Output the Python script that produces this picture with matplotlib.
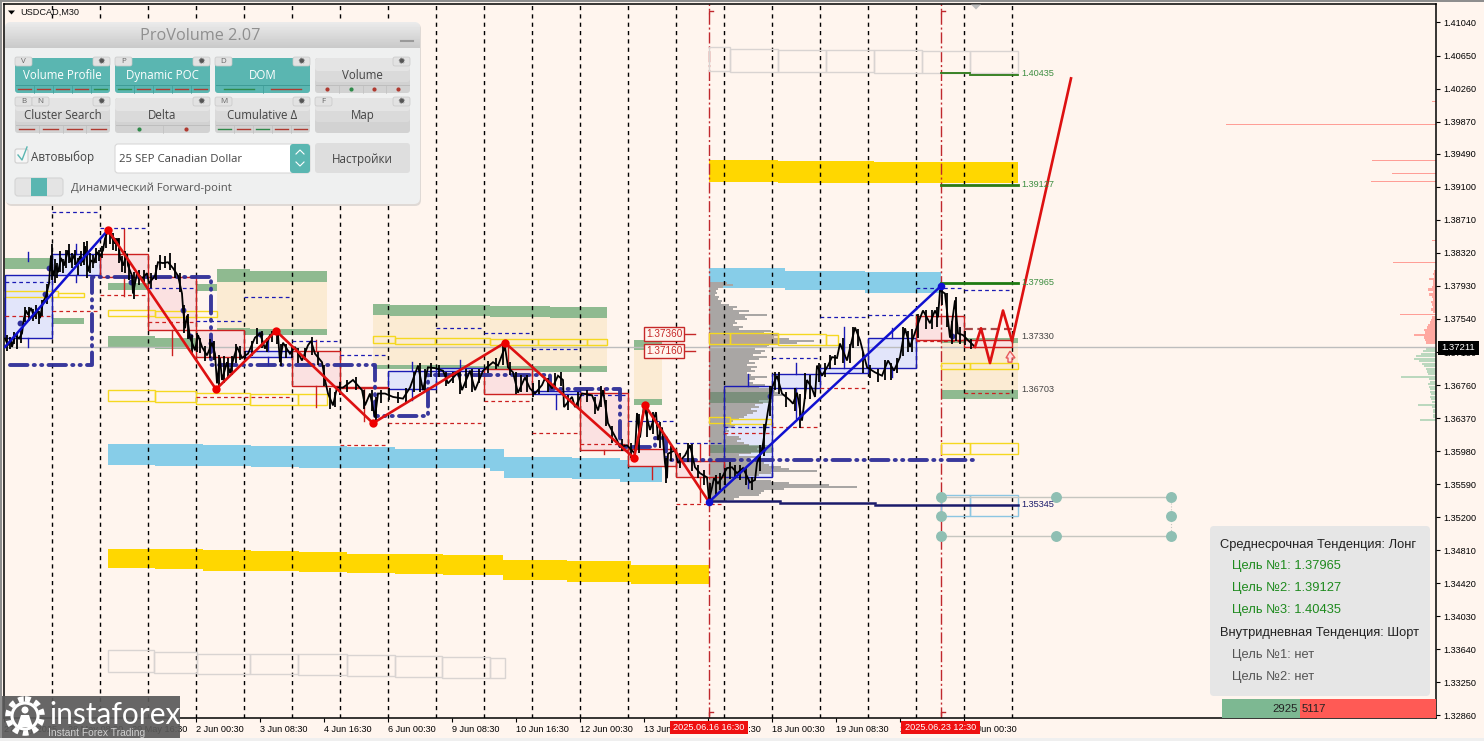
#!/usr/bin/env python3
"""USDCAD M30 chart with the ProVolume panel, drawn from values read off the screenshot."""

import matplotlib

matplotlib.use("Agg")
import matplotlib.pyplot as plt
import numpy as np
from matplotlib.patches import Circle, FancyBboxPatch, Polygon, Rectangle

BG = "#FFF5EE"
GREEN_ZONE = "#8FBA90"
BEIGE = "#FBEBD3"
SKY = "#87CDE8"
GOLD = "#FFD700"
YELLOW_EDGE = "#F5D820"
GRAY_EDGE = "#D9D4D2"
BOX_BLUE = "#1A1AB4"
BOX_BLUE_FILL = "#E2E5FA"
BOX_RED = "#CC1F1F"
BOX_RED_FILL = "#FBE1E1"
NAVY = "#2E2E98"
TEAL = "#5AB6B1"

X_LEFT, X_RIGHT = 4, 1436
Y_TOP, Y_BOTTOM = 1.41258, 1.32830

Y_TICKS = [1.41040, 1.40650, 1.40260, 1.39870, 1.39490, 1.39100, 1.38710, 1.38320, 1.37930, 1.37540, 1.37150,
           1.36760, 1.36370, 1.35980, 1.35590, 1.35200, 1.34810, 1.34420, 1.34030, 1.33640, 1.33250, 1.32860]
X_TICKS = [4, 68, 132, 196, 260, 324, 388, 452, 516, 580, 644, 708, 772, 836, 900, 964]
X_LABELS = ["27 May 2025", "28 May 08:30", "29 May 16:30", "2 Jun 00:30", "3 Jun 08:30", "4 Jun 16:30",
            "6 Jun 00:30", "9 Jun 08:30", "10 Jun 16:30", "12 Jun 00:30", "13 Jun 08:30", "16 Jun 16:30",
            "18 Jun 00:30", "19 Jun 08:30", "20 Jun 16:30", "24 Jun 00:30"]
GRID_BARS = [52, 100, 148, 196, 244, 292, 340, 388, 436, 484, 532, 580, 628, 676, 724, 772, 820, 868, 916, 964, 1012]
SESSION_BARS = [709, 941]
SESSION_TAGS = ["2025.06.16 16:30", "2025.06.23 12:30"]
LAST_PRICE = 1.37211

PRICE_PATH = [
    (5, 1.3731), (8, 1.3723), (11, 1.3729), (12, 1.3721), (15, 1.3735), (19, 1.3731), (22, 1.3737), (24, 1.3755),
    (26, 1.3764), (28, 1.3759), (31, 1.3767), (34, 1.3757), (37, 1.3765), (40, 1.3755), (43, 1.3774), (46, 1.3781),
    (49, 1.3796), (51, 1.3829), (53, 1.3805), (56, 1.3817), (58, 1.3809), (61, 1.3826), (64, 1.3817), (68, 1.3835),
    (71, 1.3821), (74, 1.3829), (77, 1.3816), (80, 1.3828), (83, 1.3821), (85, 1.3840), (88, 1.3810), (91, 1.3823),
    (94, 1.3821), (97, 1.3833), (100, 1.3828), (103, 1.3835), (105, 1.3849), (108, 1.3859),
    (112, 1.3850), (115, 1.3843), (118, 1.3849), (120, 1.3827), (123, 1.3817), (127, 1.3831), (128, 1.3817),
    (132, 1.3805), (133, 1.3784), (137, 1.3808), (142, 1.3802), (147, 1.3808), (149, 1.3796), (155, 1.3805),
    (158, 1.3821), (163, 1.3820), (168, 1.3821), (173, 1.3814), (178, 1.3805), (182, 1.3784), (183, 1.3767),
    (185, 1.3743), (187, 1.3758), (190, 1.3732), (195, 1.3717), (198, 1.3735), (202, 1.3721), (207, 1.3711),
    (212, 1.3726), (215, 1.3713), (217, 1.3678),
    (220, 1.3708), (222, 1.3682), (227, 1.3703), (230, 1.3690), (233, 1.3705), (237, 1.3721), (242, 1.3708),
    (248, 1.3713), (255, 1.3732), (260, 1.3737), (265, 1.3719), (270, 1.3735), (275, 1.3738),
    (278, 1.3735), (280, 1.3703), (283, 1.3726), (290, 1.3713), (295, 1.3721), (302, 1.3705), (308, 1.3723),
    (311, 1.3728), (315, 1.3713), (322, 1.3703), (325, 1.3682), (328, 1.3666), (333, 1.3652), (337, 1.3673),
    (343, 1.3673), (353, 1.3682), (362, 1.3670), (365, 1.3652), (370, 1.3666), (375, 1.3638), (378, 1.3666),
    (385, 1.3666), (393, 1.3662), (403, 1.3660), (410, 1.3673), (418, 1.3699), (423, 1.3670), (428, 1.3697),
    (435, 1.3696), (443, 1.3693), (448, 1.3678), (458, 1.3691), (462, 1.3670), (470, 1.3693), (475, 1.3670),
    (483, 1.3693), (493, 1.3703), (498, 1.3699), (505, 1.3721), (508, 1.3697), (513, 1.3691), (518, 1.3667),
    (525, 1.3685), (530, 1.3672), (535, 1.3666), (542, 1.3676), (545, 1.3684), (552, 1.3672), (558, 1.3687),
    (563, 1.3682), (564, 1.3650), (572, 1.3662), (575, 1.3650), (582, 1.3666), (592, 1.3664), (598, 1.3646),
    (603, 1.3670), (608, 1.3631), (617, 1.3611), (620, 1.3603), (627, 1.3605), (635, 1.3595), (637, 1.3643),
    (640, 1.3614), (644, 1.3652), (650, 1.3623), (656, 1.3644), (658, 1.3611), (662, 1.3626), (665, 1.3584),
    (667, 1.3566), (668, 1.3595), (675, 1.3599), (678, 1.3584), (685, 1.3593), (690, 1.3605), (695, 1.3579),
    (700, 1.3572), (707, 1.3567), (709, 1.3540),
    (712, 1.3555), (714, 1.3566), (718, 1.3560), (722, 1.3567), (727, 1.3578), (732, 1.3579), (737, 1.3572),
    (743, 1.3578), (750, 1.3561), (755, 1.3564), (757, 1.3584), (762, 1.3599), (765, 1.3623), (768, 1.3646),
    (772, 1.3673), (777, 1.3687), (782, 1.3666), (790, 1.3658), (793, 1.3654), (797, 1.3667), (802, 1.3634),
    (807, 1.3682), (812, 1.3672), (815, 1.3662), (817, 1.3699), (822, 1.3687), (828, 1.3699), (832, 1.3709),
    (837, 1.3708), (840, 1.3725), (847, 1.3705), (855, 1.3744), (860, 1.3729), (867, 1.3697), (875, 1.3691),
    (882, 1.3687), (888, 1.3705), (894, 1.3693), (900, 1.3709), (905, 1.3743), (910, 1.3721), (915, 1.3738),
    (920, 1.3755), (923, 1.3764), (930, 1.3749), (935, 1.3764), (938, 1.3756), (940, 1.3788), (945, 1.3784),
    (950, 1.3732), (955, 1.3776), (958, 1.3737), (963, 1.3735), (968, 1.3729), (975, 1.3721),
]

# high and low of single bars: (bar, high, low)
PRICE_RANGES = [
    (7, 1.3735, 1.3716), (10, 1.3733, 1.3718), (14, 1.3739, 1.3724), (17, 1.3737, 1.3718), (21, 1.3742, 1.3726),
    (25, 1.3768, 1.3750), (29, 1.3768, 1.3752), (33, 1.3766, 1.3752), (36, 1.3770, 1.3754), (39, 1.3764, 1.3748),
    (42, 1.3776, 1.3758), (47, 1.3795, 1.3772), (52, 1.3842, 1.3800), (55, 1.3825, 1.3796), (57, 1.3820, 1.3802),
    (60, 1.3834, 1.3810), (63, 1.3825, 1.3808), (66, 1.3836, 1.3814), (69, 1.3842, 1.3820), (72, 1.3832, 1.3814),
    (75, 1.3836, 1.3818), (78, 1.3826, 1.3806), (81, 1.3834, 1.3816), (84, 1.3845, 1.3818), (87, 1.3846, 1.3802),
    (90, 1.3832, 1.3808), (93, 1.3830, 1.3814), (96, 1.3838, 1.3820), (99, 1.3836, 1.3822), (102, 1.3840, 1.3826),
    (106, 1.3858, 1.3838), (110, 1.3858, 1.3842), (113, 1.3855, 1.3836), (116, 1.3850, 1.3834), (119, 1.3850, 1.3820),
    (122, 1.3828, 1.3810), (125, 1.3834, 1.3808), (129, 1.3822, 1.3800), (134, 1.3810, 1.3778), (139, 1.3812, 1.3794),
    (144, 1.3812, 1.3798), (151, 1.3808, 1.3790), (156, 1.3818, 1.3800), (160, 1.3830, 1.3812), (165, 1.3828, 1.3814),
    (170, 1.3832, 1.3812), (175, 1.3820, 1.3802), (180, 1.3808, 1.3786), (184, 1.3770, 1.3738), (188, 1.3760, 1.3730),
    (192, 1.3735, 1.3712), (197, 1.3738, 1.3715), (200, 1.3732, 1.3714), (205, 1.3722, 1.3704), (210, 1.3730, 1.3708),
    (214, 1.3728, 1.3705), (219, 1.3712, 1.3675), (224, 1.3710, 1.3678), (228, 1.3708, 1.3685), (232, 1.3710, 1.3688),
    (236, 1.3725, 1.3702), (240, 1.3722, 1.3705), (245, 1.3716, 1.3704), (252, 1.3728, 1.3710), (257, 1.3743, 1.3725),
    (262, 1.3740, 1.3720), (267, 1.3732, 1.3715), (272, 1.3740, 1.3727), (277, 1.3741, 1.3725), (281, 1.3725, 1.3698),
    (286, 1.3725, 1.3708), (292, 1.3722, 1.3708), (298, 1.3720, 1.3702), (305, 1.3720, 1.3706), (312, 1.3733, 1.3712),
    (318, 1.3715, 1.3700), (324, 1.3700, 1.3675), (330, 1.3672, 1.3648), (335, 1.3668, 1.3650), (340, 1.3680, 1.3664),
    (347, 1.3682, 1.3668), (356, 1.3685, 1.3670), (364, 1.3670, 1.3648), (372, 1.3670, 1.3645), (376, 1.3662, 1.3634),
    (381, 1.3670, 1.3655), (389, 1.3672, 1.3658), (398, 1.3668, 1.3655), (406, 1.3672, 1.3656), (414, 1.3692, 1.3668),
    (420, 1.3702, 1.3668), (425, 1.3695, 1.3668), (431, 1.3702, 1.3685), (439, 1.3700, 1.3685), (446, 1.3692, 1.3675),
    (453, 1.3692, 1.3678), (460, 1.3692, 1.3666), (466, 1.3695, 1.3672), (472, 1.3695, 1.3668), (479, 1.3695, 1.3678),
    (488, 1.3704, 1.3690), (496, 1.3708, 1.3695), (503, 1.3724, 1.3700), (510, 1.3703, 1.3688), (516, 1.3692, 1.3665),
    (521, 1.3688, 1.3668), (527, 1.3688, 1.3668), (533, 1.3678, 1.3662), (539, 1.3682, 1.3665), (548, 1.3684, 1.3668),
    (555, 1.3690, 1.3672), (561, 1.3692, 1.3675), (568, 1.3664, 1.3646), (578, 1.3668, 1.3650), (587, 1.3670, 1.3656),
    (595, 1.3662, 1.3642), (601, 1.3675, 1.3650), (606, 1.3658, 1.3628), (612, 1.3628, 1.3608), (622, 1.3612, 1.3598),
    (631, 1.3608, 1.3590), (639, 1.3642, 1.3596), (647, 1.3650, 1.3615), (653, 1.3644, 1.3618), (660, 1.3632, 1.3602),
    (666, 1.3590, 1.3560), (671, 1.3604, 1.3586), (680, 1.3596, 1.3578), (688, 1.3608, 1.3585), (692, 1.3606, 1.3575),
    (698, 1.3582, 1.3566), (704, 1.3576, 1.3558), (710, 1.3560, 1.3538), (716, 1.3570, 1.3545), (720, 1.3572, 1.3552),
    (725, 1.3578, 1.3558), (730, 1.3585, 1.3565), (735, 1.3582, 1.3565), (740, 1.3582, 1.3564), (746, 1.3578, 1.3558),
    (752, 1.3568, 1.3552), (760, 1.3605, 1.3575), (764, 1.3630, 1.3592), (770, 1.3675, 1.3640), (775, 1.3692, 1.3670),
    (779, 1.3692, 1.3665), (786, 1.3668, 1.3650), (795, 1.3672, 1.3645), (800, 1.3665, 1.3625), (805, 1.3690, 1.3660),
    (810, 1.3688, 1.3660), (819, 1.3702, 1.3680), (825, 1.3702, 1.3685), (830, 1.3712, 1.3695), (835, 1.3712, 1.3700),
    (843, 1.3732, 1.3702), (850, 1.3725, 1.3702), (853, 1.3745, 1.3720), (858, 1.3742, 1.3722), (863, 1.3715, 1.3690),
    (870, 1.3700, 1.3684), (878, 1.3695, 1.3680), (885, 1.3705, 1.3682), (891, 1.3702, 1.3682), (897, 1.3708, 1.3690),
    (903, 1.3745, 1.3710), (908, 1.3740, 1.3715), (912, 1.3742, 1.3715), (918, 1.3760, 1.3732), (926, 1.3765, 1.3742),
    (932, 1.3765, 1.3742), (937, 1.3768, 1.3745), (942, 1.3795, 1.3770), (947, 1.3785, 1.3745), (952, 1.3752, 1.3725),
    (956, 1.3780, 1.3728), (960, 1.3745, 1.3725), (965, 1.3740, 1.3723), (971, 1.3730, 1.3718),
]
POC_NODE_BARS = [20, 45, 49, 131, 183, 190, 211, 260, 763, 770, 952]
POC_NODE_PRICES = [1.3749, 1.3783, 1.3814, 1.3798, 1.3765, 1.3734, 1.3726, 1.3736, 1.3601, 1.3663, 1.3734]

# (first bar, last bar, upper price, lower price)
GREEN_ZONES = [
    (5, 52, 1.3826, 1.3813), (52, 75, 1.3823, 1.3814), (20, 84, 1.3755, 1.3748),
    (108, 155, 1.3797, 1.3788), (155, 217, 1.3795, 1.3787), (108, 155, 1.3734, 1.3721), (155, 217, 1.3732, 1.3719),
    (217, 250, 1.3813, 1.3798), (250, 327, 1.3811, 1.3798), (217, 250, 1.3743, 1.3735), (250, 327, 1.3742, 1.3735),
    (373, 390, 1.3772, 1.3759), (390, 435, 1.3771, 1.3758), (435, 490, 1.3770, 1.3757), (490, 550, 1.3769, 1.3756),
    (550, 607, 1.3768, 1.3755), (373, 470, 1.3700, 1.3695), (470, 607, 1.3698, 1.3692),
    (634, 662, 1.3729, 1.3717), (634, 662, 1.3660, 1.3653), (941, 1018, 1.3732, 1.3726), (941, 1018, 1.3670, 1.3659),
]
BEIGE_ZONES = [(217, 327, 1.3798, 1.3742), (373, 607, 1.3759, 1.3698), (634, 662, 1.3717, 1.3660),
               (941, 1018, 1.3726, 1.3670)]
SKY_BANDS = [
    (108, 155, 1.3607, 1.3582), (155, 203, 1.3606, 1.3581), (203, 251, 1.3605, 1.3580), (251, 299, 1.3604, 1.3579),
    (299, 347, 1.3604, 1.3578), (347, 395, 1.3603, 1.3578), (395, 490, 1.3601, 1.3578), (490, 504, 1.3600, 1.3575),
    (504, 572, 1.3591, 1.3566), (572, 620, 1.3590, 1.3565), (620, 662, 1.3587, 1.3562),
    (709, 785, 1.3814, 1.3790), (785, 865, 1.3811, 1.3788), (865, 941, 1.3809, 1.3785),
]
GOLD_BANDS = [
    (108, 155, 1.3483, 1.3460), (155, 203, 1.3482, 1.3459), (203, 251, 1.3481, 1.3457), (251, 299, 1.3480, 1.3456),
    (299, 347, 1.3479, 1.3455), (347, 395, 1.3477, 1.3454), (395, 443, 1.3476, 1.3453), (443, 503, 1.3475, 1.3452),
    (503, 567, 1.3469, 1.3446), (567, 631, 1.3468, 1.3444), (631, 709, 1.3464, 1.3441),
    (709, 778, 1.3942, 1.3916), (778, 826, 1.3941, 1.3915), (826, 874, 1.3940, 1.3914), (874, 1018, 1.3939, 1.3914),
]
YELLOW_BOXES = [
    (5, 58, 1.3787, 1.3780), (58, 84, 1.3785, 1.3780), (108, 155, 1.3765, 1.3758), (155, 217, 1.3764, 1.3756),
    (108, 155, 1.3670, 1.3657), (155, 196, 1.3669, 1.3656), (196, 250, 1.3667, 1.3654), (250, 298, 1.3666, 1.3653),
    (298, 327, 1.3665, 1.3653), (373, 395, 1.3734, 1.3726), (395, 435, 1.3732, 1.3725), (435, 490, 1.3731, 1.3724),
    (490, 538, 1.3730, 1.3723), (538, 587, 1.3730, 1.3723), (587, 607, 1.3730, 1.3723),
    (709, 730, 1.3737, 1.3725), (730, 778, 1.3737, 1.3724), (778, 826, 1.3736, 1.3723), (826, 838, 1.3735, 1.3723),
    (709, 730, 1.3638, 1.3631), (730, 771, 1.3636, 1.3630), (941, 970, 1.3702, 1.3695), (970, 1018, 1.3702, 1.3695),
    (941, 970, 1.3608, 1.3595), (970, 1018, 1.3608, 1.3595),
]
SKY_BOXES = [(941, 970, 1.3546, 1.3522), (970, 1018, 1.3546, 1.3522)]
GRAY_BOXES = [
    (108, 154, 1.3363, 1.3337), (154, 197, 1.3361, 1.3336), (197, 250, 1.3359, 1.3335), (250, 298, 1.3359, 1.3335),
    (298, 347, 1.3358, 1.3334), (347, 395, 1.3357, 1.3332), (395, 442, 1.3356, 1.3331), (442, 490, 1.3355, 1.3330),
    (490, 505, 1.3354, 1.3330),
    (709, 730, 1.4075, 1.4047), (730, 778, 1.4073, 1.4046), (778, 826, 1.4072, 1.4046), (826, 874, 1.4071, 1.4045),
    (874, 922, 1.4071, 1.4044), (922, 970, 1.4070, 1.4044), (970, 1018, 1.4070, 1.4044),
]
BLUE_BOXES = [
    (5, 52, 1.3806, 1.3732), (52, 100, 1.3831, 1.3806), (244, 292, 1.3716, 1.3709), (388, 436, 1.3693, 1.3671),
    (436, 484, 1.3696, 1.3693), (533, 580, 1.3669, 1.3666), (724, 772, 1.3675, 1.3567), (772, 820, 1.3689, 1.3673),
    (820, 868, 1.3696, 1.3690), (868, 916, 1.3732, 1.3696),
]
RED_BOXES = [
    (100, 148, 1.3831, 1.3804), (148, 196, 1.3804, 1.3741), (196, 244, 1.3741, 1.3709), (292, 340, 1.3716, 1.3675),
    (340, 388, 1.3674, 1.3672), (484, 532, 1.3695, 1.3666), (580, 628, 1.3667, 1.3599), (628, 676, 1.3600, 1.3581),
    (676, 724, 1.3586, 1.3567), (916, 964, 1.3757, 1.3729), (964, 1012, 1.3729, 1.3721),
]
# (bar, upper price, lower price)
BLUE_WICKS = [
    (28, 1.3833, 1.3823), (28, 1.3732, 1.3721), (76, 1.3843, 1.3831), (76, 1.3806, 1.3798), (268, 1.3731, 1.3716),
    (268, 1.3709, 1.3700), (412, 1.3703, 1.3693), (412, 1.3671, 1.3658), (460, 1.3706, 1.3696), (556, 1.3666, 1.3648),
    (748, 1.3689, 1.3675), (748, 1.3567, 1.3555), (796, 1.3702, 1.3689), (796, 1.3673, 1.3637), (844, 1.3745, 1.3696),
    (892, 1.3743, 1.3732), (892, 1.3696, 1.3686),
]
RED_WICKS = [
    (124, 1.3860, 1.3831), (124, 1.3804, 1.3781), (172, 1.3741, 1.3711), (316, 1.3729, 1.3716), (316, 1.3675, 1.3650),
    (364, 1.3672, 1.3633), (508, 1.3721, 1.3695), (604, 1.3673, 1.3667), (604, 1.3599, 1.3595), (652, 1.3579, 1.3565),
    (700, 1.3607, 1.3586), (700, 1.3567, 1.3538),
]
# (first bar, last bar, price)
BLUE_DASHES = [
    (52, 100, 1.3880), (100, 148, 1.3861), (5, 52, 1.3798), (148, 196, 1.3790), (196, 244, 1.3752), (244, 292, 1.3780),
    (292, 340, 1.3728), (340, 388, 1.3711), (436, 484, 1.3743), (484, 532, 1.3737), (532, 580, 1.3718),
    (580, 628, 1.3664), (628, 676, 1.3633), (676, 724, 1.3608), (724, 772, 1.3626), (772, 820, 1.3708),
    (820, 868, 1.3756), (868, 916, 1.3759), (916, 964, 1.3791), (964, 1012, 1.3788),
]
RED_DASHES = [
    (52, 100, 1.3763), (5, 52, 1.3757), (100, 148, 1.3782), (148, 196, 1.3750), (196, 292, 1.3662), (340, 388, 1.3605),
    (388, 436, 1.3631), (436, 484, 1.3631), (484, 532, 1.3657), (532, 580, 1.3619), (580, 628, 1.3607),
    (676, 724, 1.3536), (772, 820, 1.3627), (724, 772, 1.3619), (820, 868, 1.3672), (916, 964, 1.3728),
    (964, 1012, 1.3667),
]

POC_BARS = [10, 92, 92, 211, 211, 375, 375, 428, 428, 550, 550, 620, 620, 655, 655, 666, 666, 975]
POC_PRICES = [1.3700, 1.3700, 1.3804, 1.3804, 1.3700, 1.3700, 1.3639, 1.3639, 1.3688, 1.3688, 1.3671, 1.3671,
              1.3603, 1.3603, 1.3614, 1.3614, 1.3588, 1.3588]

DOWN_WAVE_BARS = [108, 216, 276, 373, 505, 634, 645, 709]
DOWN_WAVE_PRICES = [1.3859, 1.3671, 1.3740, 1.3631, 1.3726, 1.3590, 1.3652, 1.3538]
UP_WAVE_BARS = [[5, 108], [709, 941]]
UP_WAVE_PRICES = [[1.3721, 1.3859], [1.3538, 1.3793]]
FORECAST_BARS = [975, 981, 990, 1003, 1012, 1071]
FORECAST_PRICES = [1.3721, 1.3743, 1.3702, 1.3764, 1.3728, 1.4038]

TARGET_LEVELS = [1.40435, 1.39127, 1.37965, 1.37330, 1.36703, 1.35345]
TARGET_TEXT = ["1.40435", "1.39127", "1.37965", "1.37330", "1.36703", "1.35345"]
TARGET_COLORS = ["#3E8E41", "#3E8E41", "#3E8E41", "#444444", "#444444", "#1B1B6B"]
NAVY_STEPS = [(709, 780, 1.3539), (780, 875, 1.3537), (875, 1018, 1.35345)]

MARKER_BARS = [941, 941, 941, 1056, 1056, 1171, 1171, 1171]
MARKER_PRICES = [1.3544, 1.3521, 1.3498, 1.3544, 1.3498, 1.3544, 1.3521, 1.3498]

PROFILE_TOP = 1.3796
PROFILE_STEP = 0.000236
PROFILE_WIDTHS = [18, 24, 14, 9, 7, 8, 6, 10, 9, 13, 12, 20, 28, 24, 40, 30, 58, 36, 38, 26, 28, 24, 34, 30, 62, 55,
                  70, 65, 80, 105, 88, 60, 58, 46, 56, 52, 44, 58, 50, 40, 46, 38, 48, 42, 46, 38, 42, 58, 46, 40,
                  44, 56, 50, 62, 66, 70, 78, 64, 60, 50, 54, 46, 50, 42, 48, 44, 38, 35, 30, 24, 22, 26, 25, 18,
                  20, 15, 18, 30, 32, 28, 35, 40, 52, 48, 50, 42, 30, 48, 40, 50, 55, 60, 72, 80, 108, 62, 50, 38,
                  46, 62, 80, 120, 148, 75, 55, 52, 50, 30, 25, 18]
PROFILE_DARK = [(709, 772, 1.3668, 1.3655), (709, 772, 1.3605, 1.3596)]
PROFILE_TAN = [(709, 778, 1.3737, 1.3725)]

# single levels far from the price, drawn as hairlines
DOM_SPIKE_PRICES = [1.4011, 1.3984, 1.3941, 1.3926, 1.3916, 1.3847, 1.3821, 1.3759]
DOM_SPIKE_SIZES = [4, 210, 64, 44, 65, 4, 43, 36]
DOM_RED_PRICES = [1.3810, 1.3807, 1.3804, 1.3801, 1.3798, 1.3795, 1.3792, 1.3789, 1.3786, 1.3783, 1.3780, 1.3777,
                  1.3774, 1.3771, 1.3768, 1.3765, 1.3762, 1.3756, 1.3753, 1.3750, 1.3747, 1.3744, 1.3741, 1.3738,
                  1.3735, 1.3732, 1.3729, 1.3726]
DOM_RED_SIZES = [2, 3, 2, 7, 3, 3, 4, 8, 3, 7, 4, 3, 5, 4, 3, 5, 3, 4, 5, 6, 8, 9, 12, 11, 22, 12, 11, 10]
DOM_GREEN_PRICES = [1.3719, 1.3716, 1.3713, 1.3710, 1.3707, 1.3704, 1.3701, 1.3698, 1.3695, 1.3692, 1.3689, 1.3686,
                    1.3683, 1.3680, 1.3677, 1.3674, 1.3671, 1.3668, 1.3665, 1.3662, 1.3659, 1.3656, 1.3653, 1.3650,
                    1.3647, 1.3644, 1.3641, 1.3638, 1.3635]
DOM_GREEN_SIZES = [10, 13, 15, 20, 22, 17, 14, 12, 10, 9, 8, 35, 7, 6, 8, 7, 6, 6, 5, 6, 5, 4, 18, 4, 3, 3, 3, 3, 16]

RED_TAGS = ["1.37360", "1.37160"]
RED_TAG_PRICES = [1.3736, 1.3716]

INFO_LINES = ["Среднесрочная Тенденция: Лонг", "Цель №1: 1.37965", "Цель №2: 1.39127", "Цель №3: 1.40435",
              "Внутридневная Тенденция: Шорт", "Цель №1: нет", "Цель №2: нет"]
INFO_COLORS = ["#222222", "#1E8A1E", "#1E8A1E", "#1E8A1E", "#222222", "#555555", "#555555"]
BUY_VOLUME, SELL_VOLUME = 2925, 5117

BUTTONS = [
    ("Volume Profile", 15, 58, True, ["V"], ["r", "r", "r", "r", "g"], "-"),
    ("Dynamic POC", 115, 58, True, ["P"], ["g", "r", "r", "r", "r"], "-"),
    ("DOM", 215, 58, True, ["D"], ["g", "r"], "-"),
    ("Volume", 315, 58, False, [], ["r", "g", "r", "r"], "."),
    ("Cluster Search", 15, 98, False, ["B", "N"], ["r", "r", "r", "r"], "-"),
    ("Delta", 115, 98, False, [], ["g", "r"], "."),
    ("Cumulative Δ", 215, 98, False, ["M"], ["g", "r", "g", "r", "r"], "-"),
    ("Map", 315, 98, False, ["F"], [], "-"),
]


def add_boxes(ax, boxes, face, edge, lw=1.0, zorder=1.0, alpha=1.0):
    for x0, x1, hi, lo in boxes:
        ax.add_patch(Rectangle((x0, lo), x1 - x0, hi - lo, facecolor=face, edgecolor=edge, linewidth=lw,
                               zorder=zorder, alpha=alpha))


def draw_chart(ax):
    ax.set_facecolor(BG)
    ax.set_xlim(X_LEFT, X_RIGHT)
    ax.set_ylim(Y_BOTTOM, Y_TOP)

    add_boxes(ax, BEIGE_ZONES, BEIGE, "none", 0, 1.0)
    add_boxes(ax, GREEN_ZONES, GREEN_ZONE, "none", 0, 1.1)
    add_boxes(ax, SKY_BANDS, SKY, "none", 0, 1.1)
    add_boxes(ax, GOLD_BANDS, GOLD, "none", 0, 1.1)
    add_boxes(ax, BLUE_BOXES, BOX_BLUE_FILL, "none", 0, 1.2)
    add_boxes(ax, RED_BOXES, BOX_RED_FILL, "none", 0, 1.2)

    # volume profile and depth of market
    widths = np.array(PROFILE_WIDTHS)
    levels = PROFILE_TOP - PROFILE_STEP * np.arange(len(widths))
    ax.barh(levels, widths, left=SESSION_BARS[0], height=PROFILE_STEP * 0.9, color="#A9A6A4", linewidth=0, zorder=1.3)
    add_boxes(ax, PROFILE_DARK, "#4F7A55", "none", 0, 1.35, alpha=0.5)
    add_boxes(ax, PROFILE_TAN, "#D8A880", "none", 0, 1.35, alpha=0.3)
    ax.barh(DOM_SPIKE_PRICES, DOM_SPIKE_SIZES, left=X_RIGHT - np.array(DOM_SPIKE_SIZES), height=0.00012,
            color="#FF9E96", linewidth=0, zorder=1.3)
    ax.barh(DOM_RED_PRICES, DOM_RED_SIZES, left=X_RIGHT - np.array(DOM_RED_SIZES), height=0.00030,
            color="#FFA8A0", linewidth=0, zorder=1.3)
    ax.barh(DOM_GREEN_PRICES, DOM_GREEN_SIZES, left=X_RIGHT - np.array(DOM_GREEN_SIZES), height=0.00024,
            color="#BBD8BE", linewidth=0, zorder=1.3)

    ax.axhline(LAST_PRICE, color="#BDBDBD", linewidth=1.0, zorder=1.5)
    ax.vlines(GRID_BARS, Y_BOTTOM, Y_TOP, colors="black", linewidth=1.0, linestyles=(0, (3, 3)), zorder=2)
    for bar in SESSION_BARS:
        ax.plot([bar, bar], [Y_BOTTOM, Y_TOP], color="#C0282D", linewidth=1.0, linestyle=(0, (8, 2, 1.5, 2)), zorder=2.1)
        ax.plot([bar, bar, bar + 4], [1.4115, 1.4118, 1.4118], color="#C0282D", linewidth=1.0, zorder=2.1)
        ax.plot([bar, bar, bar + 4], [1.3287, 1.3290, 1.3290], color="#C0282D", linewidth=1.0, zorder=2.1)

    add_boxes(ax, YELLOW_BOXES, "none", YELLOW_EDGE, 1.0, 3)
    add_boxes(ax, SKY_BOXES, "none", "#8CC6E2", 1.0, 3)
    add_boxes(ax, GRAY_BOXES, "none", GRAY_EDGE, 1.0, 3)
    add_boxes(ax, BLUE_BOXES, "none", BOX_BLUE, 1.0, 3)
    add_boxes(ax, RED_BOXES, "none", BOX_RED, 1.0, 3)
    for bar, hi, lo in BLUE_WICKS:
        ax.plot([bar, bar], [lo, hi], color=BOX_BLUE, linewidth=1.0, zorder=3)
    for bar, hi, lo in RED_WICKS:
        ax.plot([bar, bar], [lo, hi], color=BOX_RED, linewidth=1.0, zorder=3)
    for x0, x1, price in BLUE_DASHES:
        ax.plot([x0, x1], [price, price], color=BOX_BLUE, linewidth=0.9, linestyle=(0, (3, 2.5)), zorder=3)
    for x0, x1, price in RED_DASHES:
        ax.plot([x0, x1], [price, price], color=BOX_RED, linewidth=0.9, linestyle=(0, (3, 2.5)), zorder=3)
    ax.plot([964, 1012], [1.3742, 1.3742], color="#A64B4B", linewidth=1.6, linestyle=(0, (4, 2)), zorder=3)

    ax.plot(POC_BARS, POC_PRICES, color=NAVY, linewidth=2.8, linestyle=(0, (4.5, 1.6, 0.3, 1.6, 0.3, 1.6)),
            dash_capstyle="round", alpha=0.95, zorder=3.5)
    ax.scatter(POC_NODE_BARS, POC_NODE_PRICES, s=18, color=NAVY, linewidth=0, zorder=4.8)

    # marker grid below the last session
    ax.plot([941, 1171], [1.3544, 1.3544], color="#C6C6C0", linewidth=1.0, zorder=3)
    ax.plot([941, 1171], [1.3498, 1.3498], color="#C6C6C0", linewidth=1.0, zorder=3)
    ax.plot([1171, 1171], [1.3544, 1.3498], color="#C6C6C0", linewidth=0.8, linestyle=":", zorder=3)
    ax.scatter(MARKER_BARS, MARKER_PRICES, s=62, color="#8FBFB3", linewidth=0, zorder=3.6)

    xs, ys = zip(*PRICE_PATH)
    ax.plot(xs, ys, color="black", linewidth=1.3, solid_joinstyle="miter", zorder=5)
    bars, highs, lows = zip(*PRICE_RANGES)
    ax.vlines(bars, lows, highs, colors="black", linewidth=1.3, zorder=5)

    ax.plot(DOWN_WAVE_BARS, DOWN_WAVE_PRICES, color="#DD1111", linewidth=1.9, zorder=6)
    ax.scatter(DOWN_WAVE_BARS[:-1], DOWN_WAVE_PRICES[:-1], s=36, color="#EE0000", linewidth=0, zorder=6.5)
    for bars, prices in zip(UP_WAVE_BARS, UP_WAVE_PRICES):
        ax.plot(bars, prices, color="#1010D0", linewidth=1.8, zorder=6.2)
    ax.scatter([709, 941], [1.3538, 1.3793], s=30, color="#1010D0", linewidth=0, zorder=6.5)
    ax.plot(FORECAST_BARS, FORECAST_PRICES, color="#DD1111", linewidth=1.9, zorder=6)

    ax.plot([941, 970], [1.40445, 1.40445], color="#2B7A17", linewidth=1.3, zorder=4)
    ax.plot([970, 1018], [1.40425, 1.40425], color="#2B7A17", linewidth=1.3, zorder=4)
    ax.plot([941, 1018], [1.39127, 1.39127], color="#2B7A17", linewidth=2.0, zorder=4)
    ax.plot([941, 1018], [1.37965, 1.37965], color="#1E7A12", linewidth=2.0, zorder=4)
    for x0, x1, price in NAVY_STEPS:
        ax.plot([x0, x1], [price, price], color="#1B1B6B", linewidth=1.8, zorder=4)
    for price, text, color in zip(TARGET_LEVELS, TARGET_TEXT, TARGET_COLORS):
        ax.text(1021, price, text, color=color, fontsize=6.6, va="center", ha="left", family="Liberation Sans", zorder=7)

    ax.add_patch(Polygon([(1006, 1.3708), (1010, 1.3716), (1015, 1.3708), (1012, 1.3708), (1012, 1.3703),
                          (1008, 1.3703), (1008, 1.3708)], closed=True, facecolor="#FBE1E1", edgecolor="#E75B5B",
                         linewidth=1.0, zorder=6))

    for text, price in zip(RED_TAGS, RED_TAG_PRICES):
        ax.text(664, price, text, color="#C62828", fontsize=7.2, ha="center", va="center", family="Liberation Sans",
                zorder=7, bbox={"boxstyle": "square,pad=0.18", "facecolor": BG, "edgecolor": "#C62828", "linewidth": 1.0})
        ax.plot([685, 695], [price, price], color="#C62828", linewidth=1.0, zorder=7)

    ax.yaxis.tick_right()
    ax.set_yticks(Y_TICKS)
    ax.set_yticklabels([f"{v:.5f}" for v in Y_TICKS], family="Liberation Sans", fontsize=6.6)
    ax.set_xticks(X_TICKS)
    ax.set_xticklabels(X_LABELS, family="Liberation Sans", fontsize=6.6, ha="left")
    ax.tick_params(axis="both", length=3, width=0.8, pad=2, color="black")
    for spine in ax.spines.values():
        spine.set_linewidth(1.1)


def rounded(ui, x, y, w, h, face, edge="none", r=3, lw=0.8, zorder=20, alpha=1.0):
    ui.add_patch(FancyBboxPatch((x + r, y + r), w - 2 * r, h - 2 * r, boxstyle=f"round,pad={r}", facecolor=face,
                                edgecolor=edge, linewidth=lw, zorder=zorder, alpha=alpha))


def draw_button(ui, label, x, y, teal, keys, cells, kind):
    w, h = 95, 35
    rounded(ui, x, y, w, h, TEAL if teal else "#D2D2D2", zorder=21)
    if not teal:
        rounded(ui, x, y, w, 24, "#DADADA", zorder=21.1)
        rounded(ui, x, y, w, 13, "#E4E4E4", zorder=21.2)
    text_color = "white" if teal else "#444444"
    ui.text(x + w / 2, y + 17.5, label, color=text_color, fontsize=8.3, ha="center", va="center",
            family="Open Sans", zorder=23)
    for i, key in enumerate(keys):
        rounded(ui, x + i * 17, y - 1, 17, 9, "#E2E2E2", "#C8C8C8", r=2, lw=0.5, zorder=22)
        ui.text(x + 8.5 + i * 17, y + 3.5, key, color="#666666", fontsize=5.8, ha="center", va="center",
                family="Open Sans", zorder=23)
    rounded(ui, x + w - 17, y - 1, 17, 9, "#E2E2E2", "#C8C8C8", r=2, lw=0.5, zorder=22)
    ui.text(x + w - 8.5, y + 3.2, "✹", color="#555555", fontsize=6.5, ha="center", va="center",
            family="DejaVu Sans", zorder=23)
    if not cells:
        return
    divider = "#3E9C97" if teal else "#BEBEBE"
    ui.plot([x + 1, x + w - 1], [y + 26.5, y + 26.5], color=divider, linewidth=0.7, zorder=22)
    cw = w / len(cells)
    for i, cell in enumerate(cells):
        cx = x + cw * (i + 0.5)
        color = {"r": "#B03A30", "g": "#2F8A4A"}[cell]
        if kind == ".":
            ui.scatter([cx], [y + 31], s=9, color=color, linewidth=0, zorder=23)
        else:
            half = cw * 0.32
            ui.plot([cx - half, cx + half], [y + 31, y + 31], color=color, linewidth=1.0, zorder=23)
        if i:
            ui.plot([x + cw * i] * 2, [y + 27, y + 35], color=divider, linewidth=0.5, zorder=22)


def draw_overlay(ui):
    ui.set_xlim(0, 1484)
    ui.set_ylim(741, 0)
    ui.axis("off")
    ui.patch.set_alpha(0)

    # window edges
    ui.add_patch(Rectangle((0, 0), 1484, 2, facecolor="#8E8E8E", linewidth=0, zorder=30))
    ui.add_patch(Rectangle((0, 0), 1.5, 741, facecolor="#8E8E8E", linewidth=0, zorder=30))
    ui.add_patch(Rectangle((0, 738), 1484, 3, facecolor="#EFEFEF", linewidth=0, zorder=30))

    ui.add_patch(Polygon([(971, 4.5), (981, 4.5), (976, 9.5)], closed=True, facecolor="#BDBDBD", linewidth=0, zorder=15))
    ui.add_patch(Polygon([(8, 10.5), (15, 10.5), (11.5, 14.5)], closed=True, facecolor="black", linewidth=0, zorder=15))
    ui.text(20, 12.5, "USDCAD,M30", fontsize=6.6, va="center", family="Liberation Sans", color="#111111", zorder=15)

    # ProVolume panel
    rounded(ui, 6, 23, 415, 183, "#B0B0B0", r=6, zorder=19, alpha=0.4)
    rounded(ui, 5, 22, 415, 182, "#EFF0F0", r=6, zorder=20)
    gradient = np.linspace(0.92, 0.79, 26).reshape(-1, 1)
    image = ui.imshow(gradient, extent=(5, 420, 48, 22), cmap="gray", vmin=0, vmax=1, aspect="auto", zorder=20.5)
    image.set_clip_path(FancyBboxPatch((11, 28), 403, 40, boxstyle="round,pad=6", transform=ui.transData))
    ui.set_xlim(0, 1484)
    ui.set_ylim(741, 0)
    ui.text(200, 36, "ProVolume 2.07", fontsize=11.7, color="#8F8F8F", ha="center", va="center", family="Open Sans", zorder=23)
    ui.plot([401, 413], [40.5, 40.5], color="#9A9A9A", linewidth=1.5, zorder=23)

    for label, x, y, teal, keys, cells, kind in BUTTONS:
        draw_button(ui, label, x, y, teal, keys, cells, kind)

    rounded(ui, 15, 149, 13, 14, "#F6F6F6", "#CFCFCF", r=2, zorder=21)
    ui.plot([18, 22, 27], [155, 160, 147], color=TEAL, linewidth=1.0, zorder=23)
    ui.text(31, 157, "Автовыбор", fontsize=8.4, color="#444444", va="center", family="Open Sans", zorder=23)
    rounded(ui, 115, 144, 195, 29, "white", "#D8D8D8", zorder=21)
    rounded(ui, 290, 144, 20, 29, TEAL, zorder=21.5)
    ui.plot([296, 300, 304], [154, 150, 154], color="white", linewidth=0.8, zorder=23)
    ui.plot([296, 300, 304], [162, 166, 162], color="white", linewidth=0.8, zorder=23)
    ui.text(119, 159, "25 SEP Canadian Dollar", fontsize=8.2, color="#444444", va="center", family="Open Sans", zorder=23)
    rounded(ui, 315, 143, 95, 30, "#DEDEDE", zorder=21)
    ui.text(362, 159, "Настройки", fontsize=8.4, color="#444444", ha="center", va="center", family="Open Sans", zorder=23)
    rounded(ui, 15, 178, 48, 18, "#E4E4E4", "#D4D4D4", zorder=21)
    ui.add_patch(Rectangle((31, 178), 16, 18, facecolor=TEAL, linewidth=0, zorder=22))
    ui.text(71, 188, "Динамический Forward-point", fontsize=8.1, color="#555555", va="center", family="Open Sans", zorder=23)

    # trend panel
    rounded(ui, 1210, 526, 220, 170, "#E6E6E6", r=4, zorder=20)
    rows = [545, 566, 588, 610, 633, 655, 677]
    for row, text, color in zip(rows, INFO_LINES, INFO_COLORS):
        indent = 1220 if "Тенденция" in text else 1232
        ui.text(indent, row, text, color=color, fontsize=9.3, va="center", family="Liberation Sans", zorder=23)

    # buy and sell volumes
    ui.add_patch(Rectangle((1222, 699), 78, 19, facecolor="#7DB892", linewidth=0, zorder=21))
    ui.add_patch(Rectangle((1300, 699), 136, 19, facecolor="#FF5A55", linewidth=0, zorder=21))
    ui.text(1298, 709, str(BUY_VOLUME), fontsize=8.2, ha="right", va="center", color="#222222", family="Liberation Sans", zorder=23)
    ui.text(1302, 709, str(SELL_VOLUME), fontsize=8.2, ha="left", va="center", color="#222222", family="Liberation Sans", zorder=23)

    # last price tag
    ui.add_patch(Rectangle((1438, 341), 41, 14, facecolor="black", linewidth=0, zorder=21))
    ui.text(1458.5, 348, f"{LAST_PRICE:.5f}", fontsize=6.8, color="white", ha="center", va="center", family="Liberation Sans", zorder=23)

    # date tags under the session lines
    for (x0, x1), text in zip([(670, 748), (901, 980)], SESSION_TAGS):
        ui.add_patch(Rectangle((x0, 721), x1 - x0, 13, facecolor="#EE1010", linewidth=0, zorder=21))
        ui.text((x0 + x1) / 2, 727.5, text, fontsize=6.6, color="white", ha="center", va="center", family="Liberation Sans", zorder=23)

    # instaforex logo
    ui.add_patch(Rectangle((0, 696), 180, 45, facecolor="#5A5A5A", linewidth=0, alpha=0.92, zorder=21))
    ui.add_patch(Circle((25, 716), 13, facecolor="none", edgecolor="white", linewidth=2.2, zorder=22))
    ui.add_patch(Circle((25, 716), 17, facecolor="none", edgecolor="white", linewidth=4, linestyle=(0, (1.0, 0.8)), zorder=22))
    ui.add_patch(Circle((25, 710), 3.5, facecolor="white", linewidth=0, zorder=22))
    ui.add_patch(Polygon([(17, 727), (21, 715), (29, 715), (33, 727)], closed=True, facecolor="white", linewidth=0, zorder=22))
    ui.text(49, 715, "instaforex", fontsize=21.5, color="white", va="center", family="Lato", zorder=23)
    ui.text(48, 732.5, "Instant Forex Trading", fontsize=7.4, color="#D0D0D0", va="center", family="Liberation Sans", zorder=23)


def main():
    fig = plt.figure(figsize=(14.84, 7.41), dpi=100, facecolor=BG)
    ax = fig.add_axes([X_LEFT / 1484, 1 - 718 / 741, (X_RIGHT - X_LEFT) / 1484, (718 - 4) / 741])
    ui = fig.add_axes([0, 0, 1, 1], zorder=10)
    draw_chart(ax)
    draw_overlay(ui)
    fig.savefig("out.png", dpi=100, facecolor=BG)


if __name__ == "__main__":
    main()
